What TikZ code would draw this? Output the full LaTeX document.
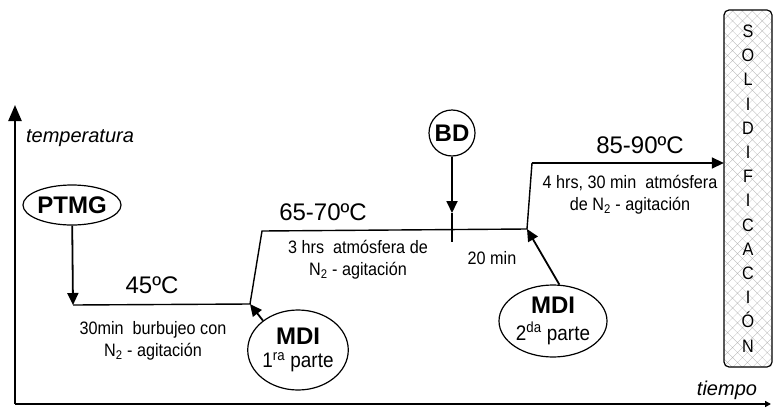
\documentclass[tikz,border=0pt]{standalone}
\usepackage{fontspec}
\setmainfont{Liberation Sans}
\newfontfamily\narrowfont[FakeStretch=0.9]{Liberation Sans}
\usetikzlibrary{arrows.meta,patterns.meta,shapes.geometric}

\begin{document}
\begin{tikzpicture}[
    x=1pt, y=-1pt,
    every node/.style={inner sep=0pt},
    >={Triangle[length=12pt,width=11pt]},
    axis/.style={line width=2.4pt},
    process/.style={line width=1.4pt},
    feed/.style={line width=1.8pt,->},
    reactant/.style={ellipse, draw, line width=1.2pt},
    temp/.style={font=\fontsize{24}{24}\selectfont},
    cond/.style={align=center, font=\narrowfont\fontsize{18}{22}\selectfont},
    solbox/.style={draw, line width=1.2pt, rounded corners=5pt,
      pattern={Hatch[angle=45,distance=7pt,line width=0.3pt]}, pattern color=black!28,
      minimum width=48pt, minimum height=357pt, align=center,
      font=\narrowfont\fontsize{18}{24.2}\selectfont}
  ]
  \useasboundingbox (0,0) rectangle (773,407);

  % axes
  \coordinate (o) at (15,404);
  \coordinate (ytop) at (15,105);
  \coordinate (xend) at (771,404);
  \draw[axis,-{Triangle[length=16pt,width=13pt]}] (o) -- (ytop);
  \draw[axis,-{Triangle[length=6pt,width=6pt]}] (o) -- (xend);
  \node (ylab) at (80,138) {\fontsize{20}{20}\selectfont\itshape temperatura};
  \node (xlab) at (727,390) {\fontsize{20}{20}\selectfont\itshape tiempo};

  % solidificacion
  \node[solbox] (sol) at (748,188.5) {S\\O\\L\\I\\D\\I\\F\\I\\C\\A\\C\\I\\Ó\\N};

  % temperature profile
  \coordinate (p0) at (73,305);
  \coordinate (p1) at (250,304);
  \coordinate (p2) at (262,231);
  \coordinate (p3) at (527,229);
  \coordinate (p4) at (532,163);
  \coordinate (p5) at (sol.west |- p4);
  \draw[process] (p0) -- (p1) -- (p2) -- (p3) -- (p4);
  \draw[process,->] (p4) -- (p5);

  \node[temp] (t45) at (152,285) {45ºC};
  \node[temp] (t65) at (323,212) {65-70ºC};
  \node[temp] (t85) at (640,145) {85-90ºC};

  \node[cond] (c45) at (153,341) {30min\ \ burbujeo con\\N\textsubscript{2} - agitación};
  \node[cond] (c65) at (358,260) {3 hrs\ \ atmósfera de\\N\textsubscript{2} - agitación};
  \node[cond] (c20) at (492,258) {20 min};
  \node[cond] (c85) at (630,195) {4 hrs, 30 min\ \ atmósfera\\de N\textsubscript{2} - agitación};

  % reactants
  \node[reactant, minimum width=86pt, minimum height=40pt] (ptmg) at (72,205)
    {\fontsize{24}{24}\selectfont\bfseries PTMG};
  \node[circle, draw, line width=1.2pt, minimum size=46pt] (bd) at (452,133)
    {\fontsize{24}{24}\selectfont\bfseries BD};
  \node[reactant, minimum width=100pt, minimum height=80pt, align=center] (mdiA) at (298,350)
    {\fontsize{24}{26}\selectfont\bfseries MDI\\[7pt]
     \narrowfont\fontsize{21}{21}\selectfont 1\textsuperscript{ra} parte};
  \node[reactant, minimum width=108pt, minimum height=72pt, align=center] (mdiB) at (553,321)
    {\fontsize{24}{26}\selectfont\bfseries MDI\\[7pt]
     \narrowfont\fontsize{21}{21}\selectfont 2\textsuperscript{da} parte};

  \coordinate (bdtip) at (452,213);
  \coordinate (bdend) at (452,242);

  \draw[feed] (ptmg) -- (p0);
  \draw[feed] (bd) -- (bdtip);
  \draw[process] (bdtip) -- (bdend);
  \draw[feed] (mdiA.140) -- (p1);
  \draw[feed] (mdiB.80) -- (p3);
\end{tikzpicture}
\end{document}
